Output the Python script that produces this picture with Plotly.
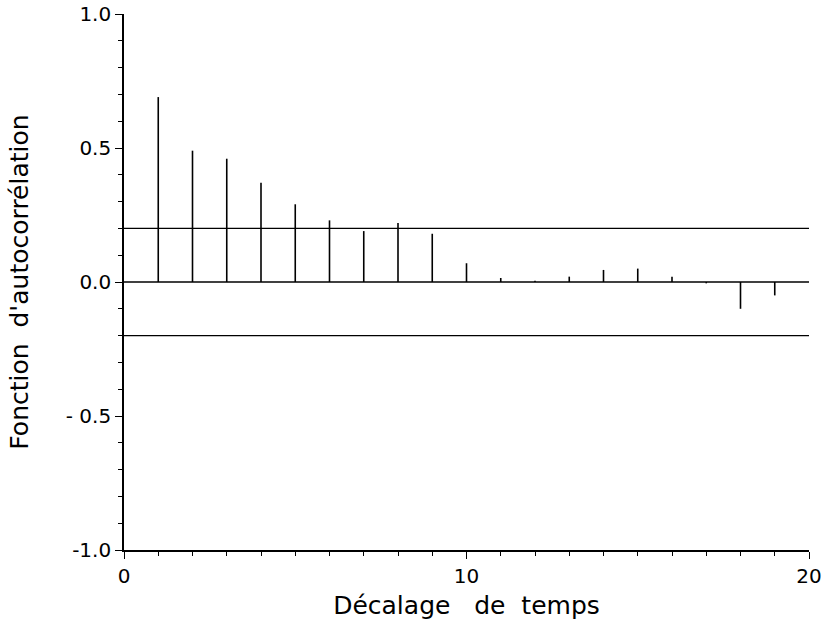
import plotly.graph_objects as go

lags = list(range(1, 20))
acf = [0.69, 0.49, 0.46, 0.37, 0.29, 0.23, 0.19, 0.22, 0.18, 0.07,
       0.015, 0.005, 0.02, 0.045, 0.05, 0.02, -0.005, -0.10, -0.05]
conf_limit = 0.2
x_range = [0, 20]
y_ticks = [-1.0, -0.5, 0.0, 0.5, 1.0]
y_tick_labels = ["-1.0", "- 0.5", "0.0", "0.5", "1.0"]
x_ticks = [0, 10, 20]
x_tick_labels = ["0", "10", "20"]

FONT = "DejaVu Sans"

# stems
sx, sy = [], []
for lag, v in zip(lags, acf):
    sx += [lag, lag, None]
    sy += [0, v, None]

fig = go.Figure()
fig.add_trace(go.Scatter(x=sx, y=sy, mode="lines",
                         line=dict(color="black", width=1.6),
                         hoverinfo="skip", showlegend=False, cliponaxis=False))
for yv in [conf_limit, 0.0, -conf_limit]:
    fig.add_trace(go.Scatter(x=x_range, y=[yv, yv], mode="lines",
                             line=dict(color="black", width=1.4),
                             hoverinfo="skip", showlegend=False, cliponaxis=False))

fig.update_layout(
    width=824, height=628,
    margin=dict(l=124, r=15, t=14, b=78),
    paper_bgcolor="white", plot_bgcolor="white",
    font=dict(family=FONT, color="black", size=20),
    xaxis=dict(range=x_range, showgrid=False, zeroline=False, automargin=False,
               showline=True, linecolor="black", linewidth=1.6,
               ticks="outside", ticklen=7, tickwidth=1.4, tickcolor="black",
               tickmode="array", tickvals=x_ticks, ticktext=x_tick_labels,
               ticklabeloverflow="allow",
               minor=dict(dtick=1, ticks="outside", ticklen=4, tickwidth=1.4, tickcolor="black"),
               tickfont=dict(size=20),
               title=dict(text="Décalage   de  temps", font=dict(size=25), standoff=10)),
    yaxis=dict(range=[-1, 1], showgrid=False, zeroline=False, automargin=False,
               showline=True, linecolor="black", linewidth=1.6,
               ticks="outside", ticklen=7, tickwidth=1.4, tickcolor="black",
               tickmode="array", tickvals=y_ticks, ticktext=y_tick_labels,
               ticklabeloverflow="allow",
               minor=dict(dtick=0.1, tick0=0, ticks="outside", ticklen=4, tickwidth=1.4, tickcolor="black"),
               tickfont=dict(size=20),
               title=dict(text="Fonction  d'autocorrélation", font=dict(size=25), standoff=30)),
)

fig.write_html("out.html", config={"displayModeBar": False},
               post_script="document.body.style.margin='0';document.body.style.overflow='hidden';")
